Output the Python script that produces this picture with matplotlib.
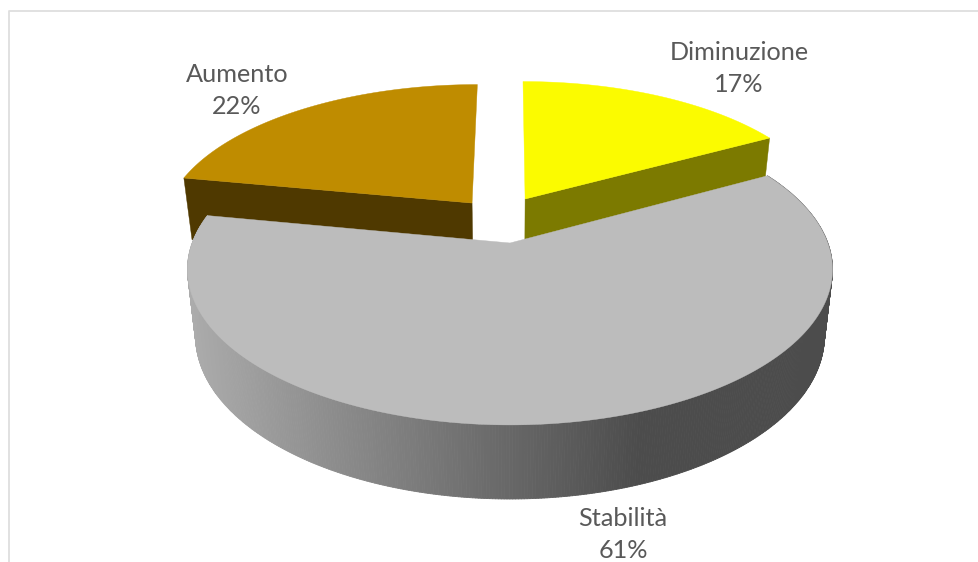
import numpy as np
import matplotlib
matplotlib.use("Agg")
import matplotlib.pyplot as plt
from matplotlib.collections import PolyCollection
from matplotlib.patches import Polygon

# dati della torta
labels = ["Diminuzione", "Stabilità", "Aumento"]
values = [17, 61, 22]
top_colors = ["#fbfb00", "#bcbcbc", "#bf8c00"]
side_colors = ["#7c7a00", None, "#4f3900"]
explode_x = [0.05, 0.0, -0.125]
explode_y = [0.3066, 0.0, 0.277]
label_x = [739, 623, 237]
label_y = [53, 518, 75]

# prospettiva: pixel dell'immagine
CX, CY = 510, 243
A, B, K = 317.8, 151, 0.17
BOTTOM_SCALE = 0.975


def project(wx, wy):
    w = 1 + K * wy
    return CX + A * wx / w, CY - B * wy / w, w


def drop(sx, sy, w):
    """Punto corrispondente sulla faccia inferiore."""
    return CX + BOTTOM_SCALE * (sx - CX), sy + 65 / w ** 0.7


fig = plt.figure(figsize=(9.79, 5.62), dpi=100)
ax = fig.add_axes([0, 0, 1, 1])
ax.set_xlim(0, 979)
ax.set_ylim(562, 0)
ax.axis("off")

# cornice
ax.plot([9.5, 9.5, 979], [562, 10.5, 10.5], color="#dedede", lw=1.3, zorder=0)

fractions = np.cumsum([0] + values) / sum(values)
theta = 2 * np.pi * fractions
order = [0, 2, 1]  # il grigio copre i lati delle altre due fette

for z, i in enumerate(order):
    t = np.linspace(theta[i], theta[i + 1], 500)
    ex, ey = explode_x[i], explode_y[i]
    ax_x, ax_y, w = project(ex + np.sin(t), ey + np.cos(t))
    tip_x, tip_y, tip_w = project(ex, ey)

    if i == 1:
        # lato curvo: tante strisce, colore in base alla x
        bx, by = drop(ax_x, ax_y, w)
        quads = [[(ax_x[n], ax_y[n]), (ax_x[n + 1], ax_y[n + 1]),
                  (bx[n + 1], by[n + 1]), (bx[n], by[n])] for n in range(len(t) - 1)]
        mid_x = (ax_x[:-1] + bx[:-1]) / 2
        shade = np.interp(mid_x, [190, 300, 470, 640, 830], [172, 148, 112, 76, 76]) / 255
        colors = np.column_stack([shade, shade, shade])
        ax.add_collection(PolyCollection(quads, facecolors=colors, edgecolors=colors,
                                         linewidths=0.6, zorder=2 * z + 2))
    else:
        # lato radiale: per Diminuzione alla fine della fetta, per Aumento all'inizio
        k = -1 if i == 0 else 0
        b_tip = drop(tip_x, tip_y, tip_w)
        b_end = drop(ax_x[k], ax_y[k], w[k])
        ax.add_patch(Polygon([(tip_x, tip_y), (ax_x[k], ax_y[k]), b_end, b_tip],
                             closed=True, fc=side_colors[i], ec=side_colors[i],
                             lw=0.3, zorder=2 * z + 2))

    ax.add_patch(Polygon(np.column_stack([np.r_[tip_x, ax_x], np.r_[tip_y, ax_y]]),
                         closed=True, fc=top_colors[i], ec=top_colors[i],
                         lw=0.3, zorder=2 * z + 3))

for name, val, x, y in zip(labels, values, label_x, label_y):
    ax.text(x, y, name, ha="center", va="center", fontsize=18.2, family="Lato",
            color="#595959", zorder=20)
    ax.text(x, y + 32, f"{val}%", ha="center", va="center", fontsize=18.2, family="Lato",
            color="#595959", zorder=20)

fig.savefig("out.png", dpi=100)
plt.close(fig)
